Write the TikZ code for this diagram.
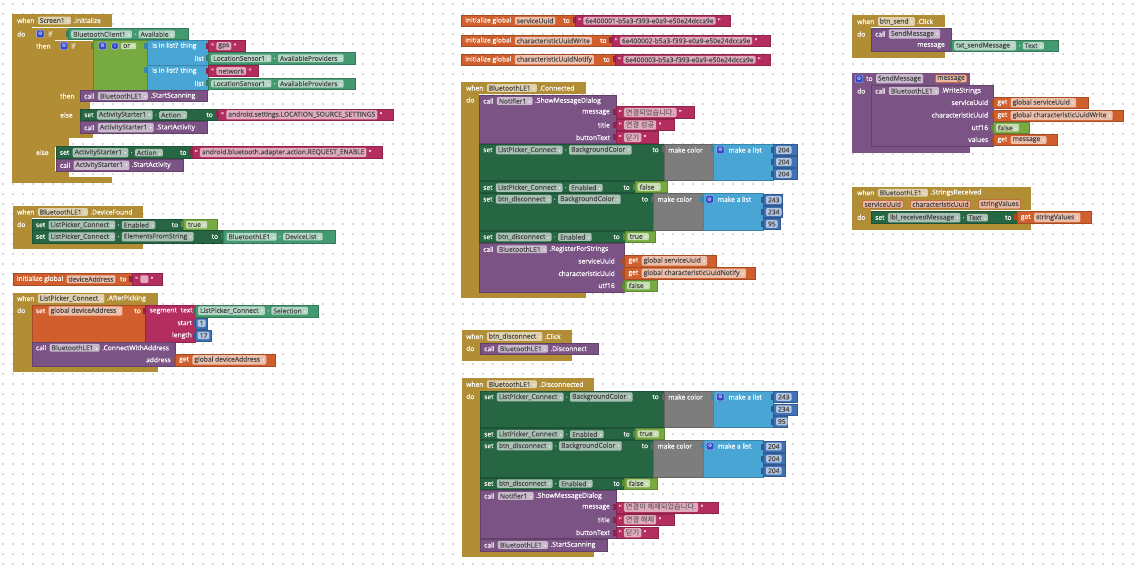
\documentclass[tikz,border=0pt]{standalone}
\usepackage{fontspec}
\setmainfont{Open Sans}
\newfontfamily\blockfam{Open Sans}[FakeBold=0.3]
\newfontfamily\kr{Noto Sans CJK KR}[Scale=1.08]
\newfontfamily\symf{DejaVu Sans}
\usetikzlibrary{positioning}
\definecolor{evt}{HTML}{B18E35}
\definecolor{setc}{HTML}{266643}
\definecolor{getc}{HTML}{439970}
\definecolor{meth}{HTML}{7C5385}
\definecolor{txt}{HTML}{B32D5E}
\definecolor{varc}{HTML}{D05F2D}
\definecolor{logic}{HTML}{77AB41}
\definecolor{mathc}{HTML}{3F71B5}
\definecolor{lst}{HTML}{49A6D4}
\definecolor{clr}{HTML}{7D7D7D}
\definecolor{gearb}{HTML}{3448C8}

\newcommand{\blockfont}{\blockfam\fontsize{6.7}{7.5}\selectfont}
\newcommand{\ddarrow}{\hspace{2.5pt}{\symf\fontsize{3.5}{4}\selectfont\color{white}▾}}

% C-shape parts (no outline)
\newcommand{\blk}[5]{\fill[#1] (#2,#3) rectangle (#4,#5);}
% statement block
\newcommand{\sblk}[5]{\filldraw[#1, draw=#1!80!black, line width=0.4pt] (#2,#3) rectangle (#4,#5);}
% value block with its plug
\newcommand{\vblk}[5]{\fill[#1!80!black] ({#2-2.5},{#3+2.5}) rectangle (#2,{#3+8.5});
  \filldraw[#1, draw=#1!80!black, line width=0.4pt] (#2,#3) rectangle (#4,#5);}
% event: header, column, footer
\newcommand{\evtshape}[8]{\fill[#1] (#2,#3) rectangle (#4,#5);
  \fill[#1] (#2,#3) rectangle (#6,#8);
  \fill[#1] (#2,#7) rectangle (#4,#8);}
\newcommand{\lb}[4]{\node[lbl] (#1) at (#2,#3) {#4};}
\newcommand{\rlb}[4]{\node[lbl, anchor=east] (#1) at (#2,#3) {#4};}
\newcommand{\when}[5]{\node[lbl] (#1w) at (#2,#3) {when};
  \node[fld, right=3pt of #1w] (#1c) {#4\ddarrow};
  \node[lbl, right=2pt of #1c] (#1e) {#5};}
\newcommand{\cget}[7]{\vblk{getc}{#2}{#3}{#4}{#5}
  \node[fld] (#1c) at ({#2+3},{(#3+#5)/2}) {#6\ddarrow};
  \node[lbl, right=2pt of #1c] (#1d) {.};
  \node[fld, right=2pt of #1d] (#1p) {#7\ddarrow};}
\newcommand{\cset}[7]{\sblk{setc}{#2}{#3}{#4}{#5}
  \node[lbl] (#1s) at ({#2+4},{#3+6}) {set};
  \node[fld, right=3pt of #1s] (#1c) {#6\ddarrow};
  \node[lbl, right=2pt of #1c] (#1d) {.};
  \node[fld, right=2pt of #1d] (#1p) {#7\ddarrow};
  \node[lbl, anchor=east] (#1t) at ({#4-5},{#3+6}) {to};}
\newcommand{\ccall}[7]{\sblk{meth}{#2}{#3}{#4}{#5}
  \node[lbl] (#1k) at ({#2+4},{#3+6}) {call};
  \node[fld, right=3pt of #1k] (#1c) {#6\ddarrow};
  \node[lbl, right=2pt of #1c] (#1m) {#7};}
\newcommand{\tval}[6]{\vblk{txt}{#2}{#3}{#4}{#5}
  \node[lbl] (#1a) at ({#2+3},{(#3+#5)/2}) {"};
  \node[fld, right=2pt of #1a] (#1f) {#6};
  \node[lbl, right=2pt of #1f] (#1b) {"};}
\newcommand{\nval}[6]{\vblk{mathc}{#2}{#3}{#4}{#5}
  \node[fld] (#1f) at ({#2+2.5},{(#3+#5)/2}) {#6};}
\newcommand{\bval}[6]{\vblk{logic}{#2}{#3}{#4}{#5}
  \node[fld] (#1f) at ({#2+2.5},{(#3+#5)/2}) {#6\ddarrow};}
\newcommand{\gval}[6]{\vblk{varc}{#2}{#3}{#4}{#5}
  \node[lbl] (#1g) at ({#2+4},{(#3+#5)/2}) {get};
  \node[fld, right=3pt of #1g] (#1f) {#6\ddarrow};}
\newcommand{\ginit}[6]{\sblk{varc}{#2}{#3}{#4}{#5}
  \node[lbl] (#1i) at ({#2+4},{(#3+#5)/2}) {initialize global};
  \node[fld, right=3pt of #1i] (#1f) {#6};
  \node[lbl, anchor=east] (#1t) at ({#4-5},{(#3+#5)/2}) {to};}
\newcommand{\mkcolor}[5]{\vblk{clr}{#2}{#3}{#4}{#5}
  \node[lbl] (#1) at ({#2+4},{#3+6}) {make color};}
\newcommand{\mklist}[5]{\vblk{lst}{#2}{#3}{#4}{#5}
  \node[icon] (#1g) at ({#2+7},{#3+6}) {⚙};
  \node[lbl, right=4pt of #1g] (#1) {make a list};}

\tikzset{
  lbl/.style={anchor=west, inner sep=0pt, text=white, font=\blockfont},
  fld/.style={anchor=west, inner xsep=2pt, inner ysep=1.3pt, rounded corners=1.2pt,
    fill=white, fill opacity=0.6, text opacity=1, text=black!72, font=\blockfont},
  pfld/.style={fld, fill=varc!45!white, fill opacity=1, draw=varc!90!black, line width=0.5pt},
  icon/.style={fill=gearb, draw=white!70!gearb, line width=0.4pt, rounded corners=1pt,
    minimum size=7.5pt, inner sep=0pt, text=white, font=\symf\fontsize{5}{5}\selectfont},
  dotrow/.style={gray!30, line width=1.3pt, dash pattern=on 1.3pt off 8.7pt},
}

\begin{document}
\begin{tikzpicture}[x=1pt, y=-1pt]
\useasboundingbox (0,0) rectangle (1139,569);

% --- workspace dots ---
\fill[white] (0,0) rectangle (1139,569);
\foreach \yy in {4,14,...,564} \draw[dotrow] (2.4,\yy) -- (1139,\yy);

% --- when Screen1.Initialize ---
\evtshape{evt}{12}{14}{112}{27}{32}{177}{183}
\when{s}{17}{20.5}{Screen1}{.Initialize}
\lb{sdo}{17}{34}{do}
% outer if
\blk{evt}{32}{28}{68}{40}
\blk{evt}{32}{28}{55}{177}
\blk{evt}{32}{138.3}{69}{146.7}
\blk{evt}{32}{171}{69}{177}
\node[icon] (sg1) at (40.3,34) {⚙};
\lb{sif1}{48}{34}{if}
\lb{sth1}{36}{46}{then}
\lb{sel1}{36}{152.5}{else}
\cget{sbt}{68}{28.7}{188}{39.7}{BluetoothClient1}{Available}
% inner if
\blk{evt}{55}{40.7}{93}{90}
\blk{evt}{55}{40.7}{80}{138.3}
\blk{evt}{55}{101.7}{90}{109}
\blk{evt}{55}{133.3}{93}{138.3}
\node[icon] (sg2) at (64,46) {⚙};
\lb{sif2}{71}{46}{if}
\lb{sth2}{60}{96}{then}
\lb{sel2}{60}{115}{else}
% or
\vblk{logic}{93}{40.7}{148}{90}
\node[icon] (sg3) at (102.5,46) {⚙};
\node[icon, circle] (si3) at (115,46) {i};
\node[fld] (sor) at (121,46) {or\ddarrow};
% is in list?
\vblk{lst}{146.7}{40.7}{208}{65}
\lb{sl1}{152}{46}{is in list? thing}
\rlb{sl1b}{204}{58.5}{list}
\vblk{lst}{146.7}{65}{208}{90}
\lb{sl2}{152}{71}{is in list? thing}
\rlb{sl2b}{204}{83.5}{list}
\tval{sgp}{208}{40.7}{245}{51.5}{gps}
\cget{sls1}{208}{52.7}{355}{64}{LocationSensor1}{AvailableProviders}
\tval{snw}{208}{65.7}{258}{76.5}{network}
\cget{sls2}{208}{78}{355}{89.3}{LocationSensor1}{AvailableProviders}
% then / else
\ccall{sss}{80}{90}{206.7}{101.7}{BluetoothLE1}{.StartScanning}
\cset{sa1}{80}{109}{218}{120.7}{ActivityStarter1}{Action}
\tval{sa1v}{218}{109}{392.7}{120.7}{android.settings.LOCATION\_SOURCE\_SETTINGS}
\ccall{sa1c}{80}{121.7}{206.7}{133.3}{ActivityStarter1}{.StartActivity}
\cset{sa2}{55.7}{146.7}{191.7}{158.3}{ActivityStarter1}{Action}
\tval{sa2v}{191.7}{146.7}{381.7}{158.3}{android.bluetooth.adapter.action.REQUEST\_ENABLE}
\ccall{sa2c}{55.7}{159.3}{183.3}{171}{ActivityStarter1}{.StartActivity}

% --- when BluetoothLE1.DeviceFound ---
\evtshape{evt}{12.7}{206}{143.3}{218.5}{31.7}{242.7}{249.3}
\when{d}{17}{212}{BluetoothLE1}{.DeviceFound}
\lb{ddo}{17}{224.5}{do}
\cset{dse}{31.7}{219}{183.3}{230.5}{ListPicker\_Connect}{Enabled}
\bval{dsev}{183.3}{219}{216.7}{230.5}{true}
\cset{dsl}{31.7}{230.7}{223.3}{242.7}{ListPicker\_Connect}{ElementsFromString}
\cget{dslv}{223.3}{230.7}{335}{242.7}{BluetoothLE1}{DeviceList}

% --- global deviceAddress ---
\ginit{g0}{12.7}{273.3}{131.7}{285}{deviceAddress}
\vblk{txt}{131.7}{273.3}{161.7}{285}
\lb{g0a}{135}{279.2}{"}
\node[fld, minimum width=8pt, minimum height=7.5pt, right=2pt of g0a] (g0f) {};
\node[lbl, right=2pt of g0f] (g0b) {"};

% --- when ListPicker_Connect.AfterPicking ---
\evtshape{evt}{12.7}{292.7}{157.7}{304.5}{31.7}{365.7}{371.7}
\when{p}{17}{298.5}{ListPicker\_Connect}{.AfterPicking}
\lb{pdo}{17}{310.5}{do}
\sblk{varc}{31.7}{305}{145}{341.7}
\lb{ps}{35.7}{311}{set}
\node[fld, right=3pt of ps] (psf) {global deviceAddress\ddarrow};
\rlb{pst}{141}{311}{to}
\vblk{txt}{145}{305}{195}{341.7}
\lb{pseg}{149.5}{311}{segment\hspace{4pt}text}
\rlb{pst1}{192}{323}{start}
\rlb{pst2}{192}{335.5}{length}
\cget{psel}{195}{305}{318.3}{316.7}{ListPicker\_Connect}{Selection}
\nval{pn1}{195}{317.7}{206.7}{328.7}{1}
\nval{pn2}{195}{330}{210.7}{341}{17}
\ccall{pc}{31.7}{341.7}{175}{365.7}{BluetoothLE1}{.ConnectWithAddress}
\rlb{pca}{171}{359.7}{address}
\gval{pcg}{175}{354}{275}{365.7}{global deviceAddress}

% --- globals ---
\ginit{g1}{461}{15}{575}{26.5}{serviceUuid}
\tval{g1v}{575}{15}{730}{26.5}{6e400001-b5a3-f393-e0a9-e50e24dcca9e}
\ginit{g2}{461}{35}{611.7}{46.5}{characteristicUuidWrite}
\tval{g2v}{611.7}{35}{770}{46.5}{6e400002-b5a3-f393-e0a9-e50e24dcca9e}
\ginit{g3}{461}{54}{615}{65.5}{characteristicUuidNotify}
\tval{g3v}{615}{54}{770}{65.5}{6e400003-b5a3-f393-e0a9-e50e24dcca9e}

% --- when BluetoothLE1.Connected ---
\evtshape{evt}{461}{81.7}{586}{94}{479}{291.7}{298.3}
\when{c}{466}{88}{BluetoothLE1}{.Connected}
\lb{cdo}{466}{100}{do}
\ccall{cn}{479}{95}{616}{143.3}{Notifier1}{.ShowMessageDialog}
\rlb{cn1}{610}{112.5}{message}
\rlb{cn2}{610}{125}{title}
\rlb{cn3}{610}{137.5}{buttonText}
\tval{cn1v}{615.7}{106.7}{694}{118.3}{\kr 연결되었습니다.}
\tval{cn2v}{615.7}{119.3}{674}{130.7}{\kr 연결 성공}
\tval{cn3v}{615.7}{131.7}{657.7}{143.3}{\kr 닫기}
\cset{cb1}{479}{144}{664}{180.7}{ListPicker\_Connect}{BackgroundColor}
\mkcolor{cb1m}{664}{144}{713.3}{180.7}
\mklist{cb1l}{713.3}{144}{773.3}{180.7}
\nval{cb1a}{773.3}{144.5}{796.7}{155.5}{204}
\nval{cb1b}{773.3}{156.5}{796.7}{167.5}{204}
\nval{cb1c}{773.3}{168.5}{796.7}{179.5}{204}
\cset{ce1}{479}{181.7}{635}{192.3}{ListPicker\_Connect}{Enabled}
\bval{ce1v}{635}{181.7}{666.7}{192.3}{false}
\cset{cb2}{479}{193.3}{653.3}{230}{btn\_disconnect}{BackgroundColor}
\mkcolor{cb2m}{653.3}{193.3}{702.7}{230}
\mklist{cb2l}{702.7}{193.3}{763.3}{230}
\nval{cb2a}{763.3}{194.5}{782}{205.5}{243}
\nval{cb2b}{763.3}{206.5}{782}{217.5}{234}
\nval{cb2c}{763.3}{218.5}{780}{229.5}{95}
\cset{ce2}{479}{231}{625}{242.3}{btn\_disconnect}{Enabled}
\bval{ce2v}{625}{231}{655}{242.3}{true}
\ccall{cr}{479}{243.3}{624.3}{291.7}{BluetoothLE1}{.RegisterForStrings}
\rlb{cr1}{615}{261}{serviceUuid}
\rlb{cr2}{615}{273.5}{characteristicUuid}
\rlb{cr3}{615}{285.5}{utf16}
\gval{cr1v}{624.3}{255}{716}{266.7}{global serviceUuid}
\gval{cr2v}{624.3}{267.5}{755}{279}{global characteristicUuidNotify}
\bval{cr3v}{624.3}{280}{656.7}{291}{false}

% --- when btn_disconnect.Click ---
\evtshape{evt}{461.7}{330}{572.3}{342.7}{480}{354.3}{360.7}
\when{k}{466}{336.5}{btn\_disconnect}{.Click}
\lb{kdo}{466}{348.5}{do}
\ccall{kcl}{480}{342.7}{598.3}{354.3}{BluetoothLE1}{.Disconnect}

% --- when BluetoothLE1.Disconnected ---
\evtshape{evt}{461.7}{378.3}{594.3}{390.5}{480}{551}{557.3}
\when{x}{466}{384.3}{BluetoothLE1}{.Disconnected}
\lb{xdo}{466}{396.5}{do}
\cset{xb1}{480}{391}{664}{427.3}{ListPicker\_Connect}{BackgroundColor}
\mkcolor{xb1m}{664}{391}{713.3}{427.3}
\mklist{xb1l}{713.3}{391}{773.3}{427.3}
\nval{xb1a}{773.3}{391.5}{796.7}{402.5}{243}
\nval{xb1b}{773.3}{403.7}{796.7}{414.7}{234}
\nval{xb1c}{773.3}{416}{786.7}{427}{95}
\cset{xe1}{480}{428.3}{635}{439.3}{ListPicker\_Connect}{Enabled}
\bval{xe1v}{635}{428.3}{664.3}{439.3}{true}
\cset{xb2}{480}{440}{653.3}{476.7}{btn\_disconnect}{BackgroundColor}
\mkcolor{xb2m}{653.3}{440}{703}{476.7}
\mklist{xb2l}{703}{440}{763.3}{476.7}
\nval{xb2a}{763.3}{441}{785}{452}{204}
\nval{xb2b}{763.3}{453.3}{785}{464.3}{204}
\nval{xb2c}{763.3}{465.3}{785}{476.3}{204}
\cset{xe2}{480}{477.7}{625}{489}{btn\_disconnect}{Enabled}
\bval{xe2v}{624.3}{477.7}{656.7}{489}{false}
\ccall{xn}{480}{490}{615.7}{538.3}{Notifier1}{.ShowMessageDialog}
\rlb{xn1}{610}{507.5}{message}
\rlb{xn2}{610}{519.7}{title}
\rlb{xn3}{610}{532.5}{buttonText}
\tval{xn1v}{615.7}{501.7}{717.7}{512.7}{\kr 연결이 해제되었습니다.}
\tval{xn2v}{615.7}{514.3}{674}{525.3}{\kr 연결 해제}
\tval{xn3v}{615.7}{527.3}{657.7}{538.3}{\kr 닫기}
\ccall{xs}{480}{539}{606.7}{551}{BluetoothLE1}{.StartScanning}

% --- when btn_send.Click ---
\evtshape{evt}{852.3}{15}{945}{27.5}{871}{51.7}{58.3}
\when{b}{857}{21.5}{btn\_send}{.Click}
\lb{bdo}{857}{34}{do}
\sblk{meth}{871}{28.3}{951}{51.7}
\lb{bk}{875}{34}{call}
\node[fld, right=3pt of bk] (bkf) {SendMessage\ddarrow};
\rlb{bm}{945}{45.7}{message}
\cget{bmv}{951}{40}{1058.3}{51.5}{txt\_sendMessage}{Text}

% --- to SendMessage ---
\evtshape{meth}{852.3}{72.7}{970}{85}{871}{146.7}{152.7}
\node[icon] (fg) at (859,78.8) {⚙};
\lb{fto}{866}{78.8}{to}
\node[fld, right=3pt of fto] (fnm) {SendMessage};
\node[pfld] (fpm) at (935,78.8) {message};
\lb{fdo}{857}{91}{do}
\ccall{fw}{871}{85}{993.3}{146.7}{BluetoothLE1}{.WriteStrings}
\rlb{fw1}{988.3}{102.5}{serviceUuid}
\rlb{fw2}{988.3}{115}{characteristicUuid}
\rlb{fw3}{988.3}{127.5}{utf16}
\rlb{fw4}{988.3}{139.5}{values}
\gval{fw1v}{993.3}{97.3}{1088.3}{108.3}{global serviceUuid}
\gval{fw2v}{993.3}{110}{1123.3}{121}{global characteristicUuidWrite}
\bval{fw3v}{993.3}{122.3}{1029.3}{133.3}{false}
\gval{fw4v}{993.3}{134.3}{1057.3}{145.7}{message}

% --- when BluetoothLE1.StringsReceived ---
\evtshape{evt}{852.3}{186.7}{1031}{210.5}{871}{223.3}{230}
\when{r}{857}{192.7}{BluetoothLE1}{.StringsReceived}
\node[pfld] (rp1) at (862.3,204.3) {serviceUuid};
\node[pfld] (rp2) at (910,204.3) {characteristicUuid};
\node[pfld] (rp3) at (978.3,204.3) {stringValues};
\lb{rdo}{857}{217.3}{do}
\cset{rs}{871}{211.7}{1016.7}{223.3}{lbl\_receivedMessage}{Text}
\gval{rsv}{1016.7}{211.7}{1091}{223.3}{stringValues}

\end{tikzpicture}
\end{document}
